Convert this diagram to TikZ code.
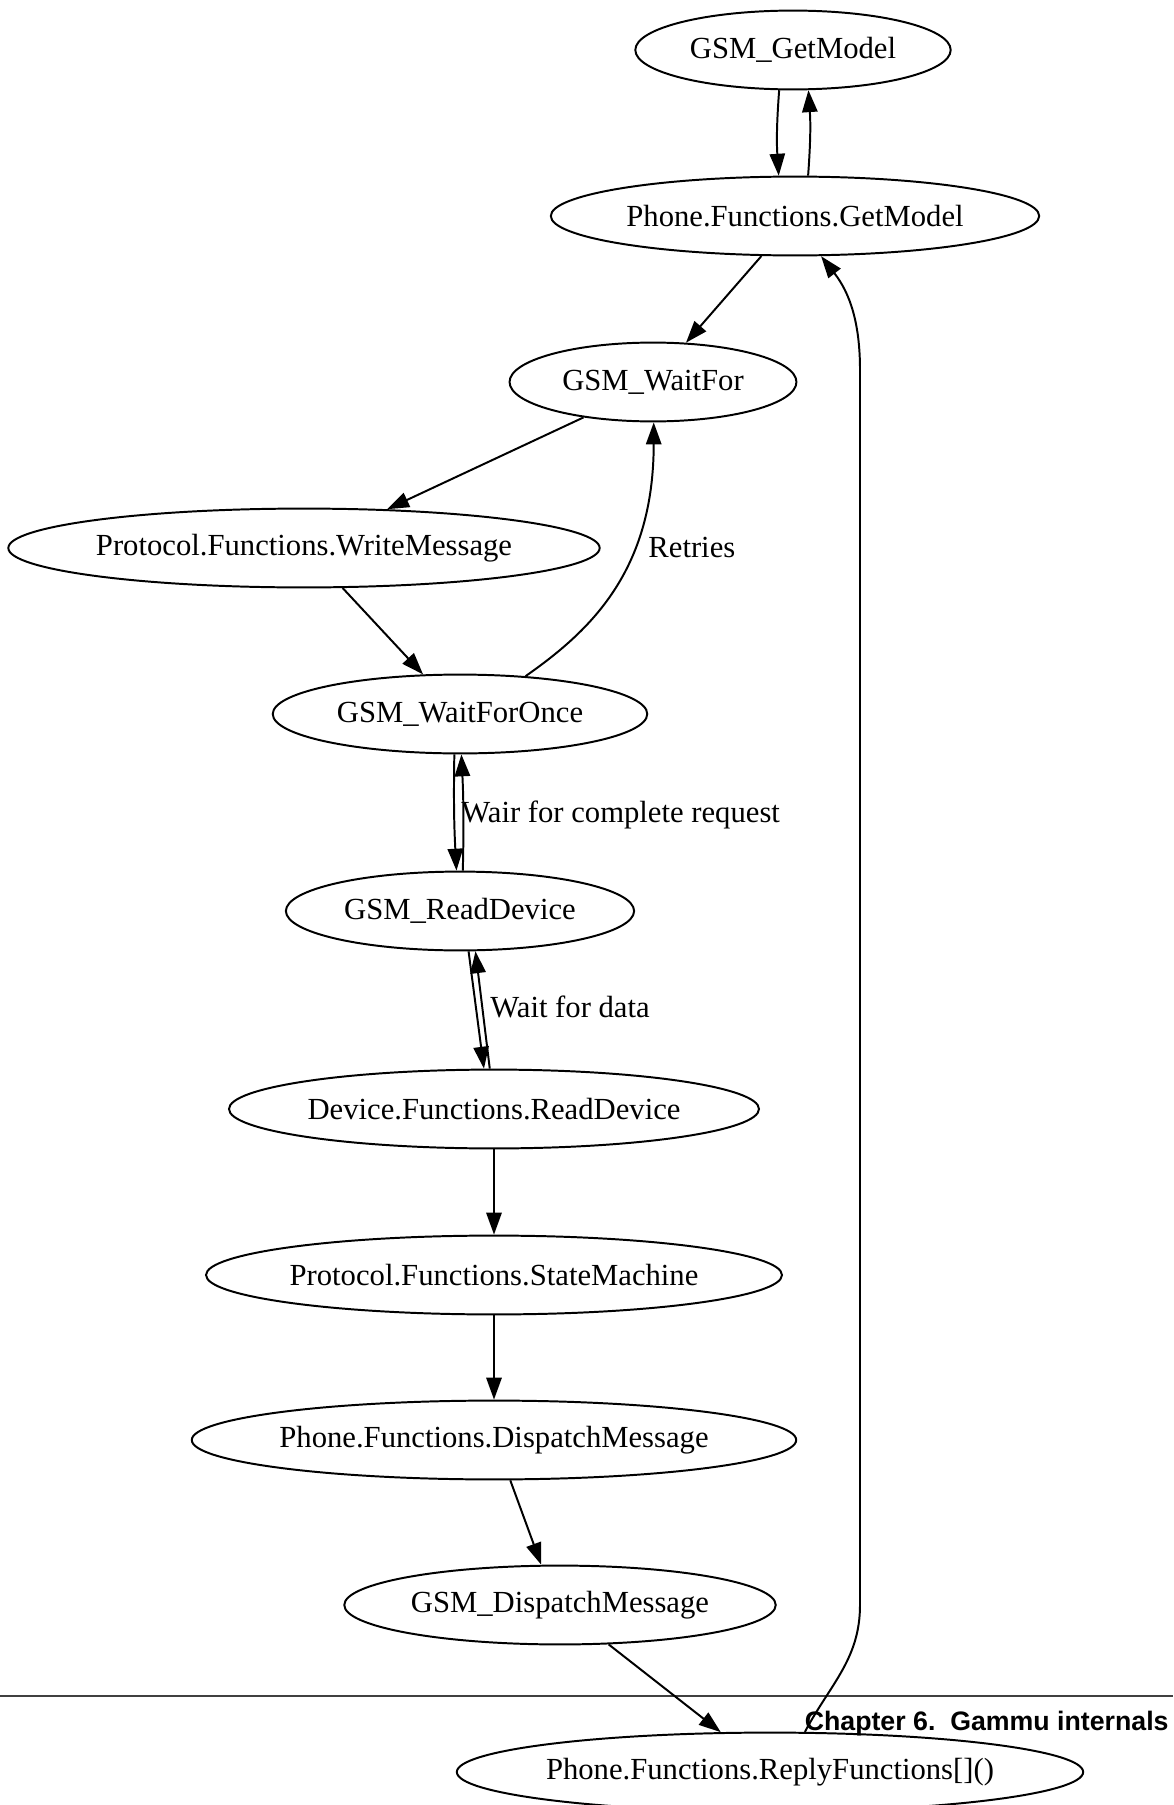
\documentclass[tikz,border=0pt]{standalone}
\usepackage{fontspec}
\setmainfont{Liberation Serif}
\newfontfamily\chapfont{Liberation Sans}
\usetikzlibrary{arrows.meta,shapes.geometric}
\newcommand{\fname}[1]{\makebox[0pt]{#1}}
\tikzset{
  call/.style={draw,ellipse,line width=0.9pt,inner sep=0pt,minimum height=36pt,
               font=\fontsize{14}{16}\selectfont},
  flow/.style={line width=0.9pt,-{Triangle[length=10pt,width=7pt]}},
  elab/.style={anchor=base west,inner sep=0pt,font=\fontsize{14}{16}\selectfont},
  chap/.style={anchor=base east,inner sep=0pt,font=\chapfont\bfseries\fontsize{12.2}{14}\selectfont},
  pagerule/.style={line width=0.5pt,black!75}
}

\begin{document}
\begin{tikzpicture}[x=0.4566pt,y=-0.4566pt]
    \useasboundingbox (0,0) rectangle (1173,1805);
    % --- page header
    \draw[pagerule] (0,1696) -- (1173,1696);
    \node[chap] (chapter) at (1169,1730) {Chapter 6.\ \ Gammu internals};
    % --- calls
    \node[call,minimum width=144pt] (getmodel) at (793,50)  {\fname{GSM\_GetModel}};
    \node[call,minimum width=223pt] (phonegm)  at (795,216) {\fname{Phone.Functions.GetModel}};
    \node[call,minimum width=131pt] (waitfor)  at (653,382) {\fname{GSM\_WaitFor}};
    \node[call,minimum width=270pt] (writemsg) at (304,548) {\fname{Protocol.Functions.WriteMessage}};
    \node[call,minimum width=171pt] (waitonce) at (460,714) {\fname{GSM\_WaitForOnce}};
    \node[call,minimum width=159pt] (readdev)  at (460,911) {\fname{GSM\_ReadDevice}};
    \node[call,minimum width=242pt] (devread)  at (494,1109) {\fname{Device.Functions.ReadDevice}};
    \node[call,minimum width=263pt] (statem)   at (494,1275) {\fname{Protocol.Functions.StateMachine}};
    \node[call,minimum width=276pt] (dispatch) at (494,1440) {\fname{Phone.Functions.DispatchMessage}};
    \node[call,minimum width=197pt] (gsmdisp)  at (560,1605) {\fname{GSM\_DispatchMessage}};
    \node[call,minimum width=286pt] (reply)    at (770,1772) {\fname{Phone.Functions.ReplyFunctions[]()}};
    % --- labels
    \node[elab] (retries)  at (648,557)  {Retries};
    \node[elab] (complete) at (461,822)  {Wair for complete request};
    \node[elab] (data)     at (490,1017) {Wait for data};
    % --- edges
    \draw[flow] (getmodel.-109) to[bend right=4] (phonegm.112);
    \draw[flow] (phonegm.72) to[bend right=4] (getmodel.-69);
    \draw[flow] (phonegm.-130) -- (waitfor.50);
    \draw[flow] (waitfor.-153) -- (writemsg.25);
    \draw[flow] (writemsg.-46) -- (waitonce.133);
    \draw[flow] (waitonce.30) to[out=35,in=-90,out distance=36pt,in distance=68pt] (waitfor.-89);
    \draw[flow] (waitonce.-98) to[bend right=2] (readdev.95);
    \draw[flow] (readdev.86) to[bend right=2] (waitonce.-88);
    \draw[flow] (readdev.-78) -- (devread.104);
    \draw[flow] (devread.96) -- (readdev.-69);
    \draw[flow] (devread) -- (statem);
    \draw[flow] (statem) -- (dispatch);
    \draw[flow] (dispatch.-68) -- (gsmdisp.115);
    \draw[flow] (gsmdisp.-39) -- (reply.141);
    % --- reply back to the phone layer
    \coordinate (rlow)  at (860,1605);
    \coordinate (rhigh) at (860,370);
    \draw[flow] (reply.49) to[out=62,in=-90] (rlow) -- (rhigh) to[out=90,in=-52] (phonegm.-57);
\end{tikzpicture}
\end{document}
